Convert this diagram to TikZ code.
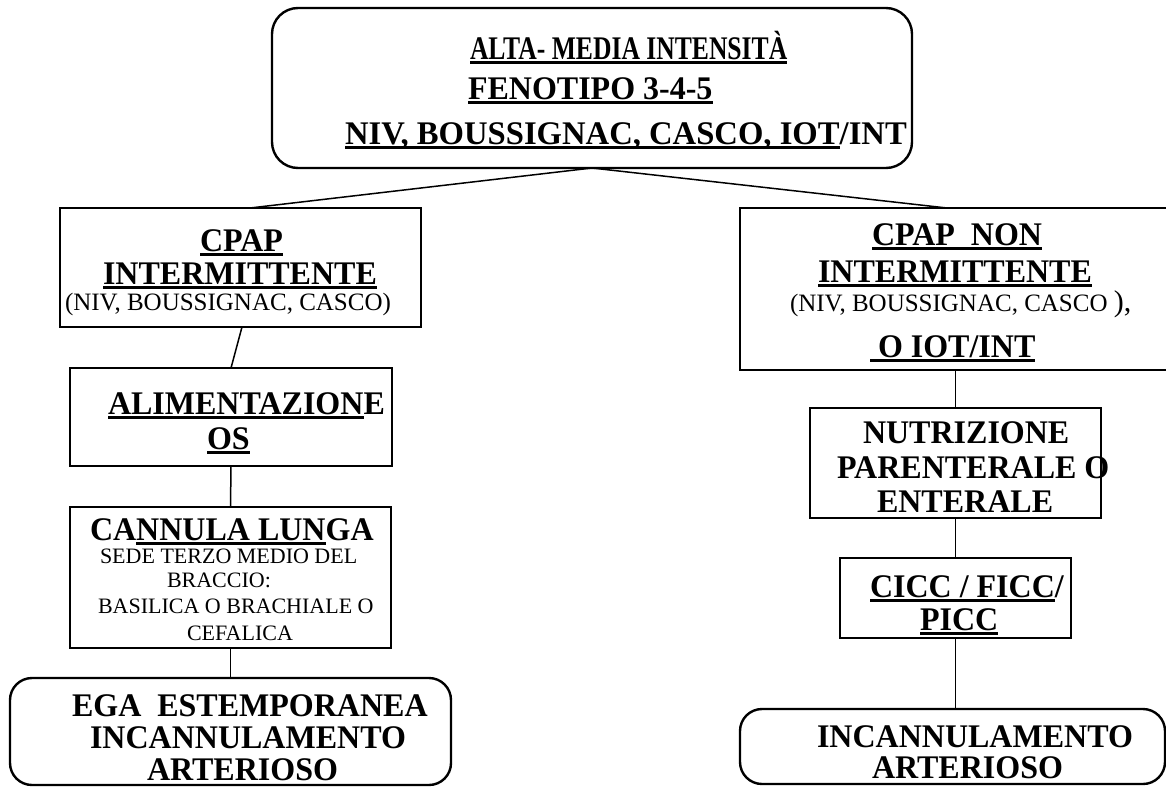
\documentclass[tikz,border=0pt]{standalone}
\usepackage{fontspec}
\setmainfont{Liberation Serif}
\newfontfamily\tallserif[FakeStretch=0.97]{Liberation Serif}
\newsavebox{\myulbox}
\newcommand{\myul}[1]{\sbox{\myulbox}{#1}\rlap{\rule[-4.6pt]{\wd\myulbox}{2.2pt}}\usebox{\myulbox}}
\tikzset{
  box/.style={draw, line width=2.4pt, rectangle, inner sep=0pt, outer sep=0pt},
  rbox/.style={box, rounded corners=22pt},
  link/.style={line width=1.5pt},
  tb/.style={anchor=base west, inner sep=0pt, outer sep=0pt, font=\tallserif\fontsize{33}{36}\selectfont\bfseries},
  tr/.style={anchor=base west, inner sep=0pt, outer sep=0pt, font=\fontsize{25}{28}\selectfont},
  ts/.style={anchor=base west, inner sep=0pt, outer sep=0pt, font=\fontsize{22}{24}\selectfont},
}
\begin{document}
\begin{tikzpicture}[x=1pt,y=-1pt]
\useasboundingbox (0,0) rectangle (1166,787);
% boxes
\node[rbox, rounded corners=26pt, minimum width=640pt, minimum height=160pt] (top) at (592,88) {};
\node[box, minimum width=361pt, minimum height=119pt] (cpapL) at (240.5,267.5) {};
\node[box, minimum width=322pt, minimum height=98pt] (alim) at (231,417) {};
\node[box, minimum width=321pt, minimum height=141pt] (cann) at (230.5,577.5) {};
\node[rbox, minimum width=441pt, minimum height=107pt] (ega) at (230.5,731.5) {};
\node[box, minimum width=440pt, minimum height=162pt] (cpapR) at (960,289) {};
\node[box, minimum width=291pt, minimum height=110pt] (nutr) at (955.5,463) {};
\node[box, minimum width=231pt, minimum height=80pt] (cicc) at (955.5,598) {};
\node[rbox, minimum width=425pt, minimum height=75pt] (incR) at (952.5,746.5) {};
% connectors
\draw[link] (top.south) -- ([xshift=9.5pt]cpapL.north);
\draw[link] (top.south) -- ([xshift=-13pt]cpapR.north);
\draw[link] ([xshift=1.5pt]cpapL.south) -- (alim.north);
\draw[link] (alim.south) -- (cann.north);
\draw[link] (cann.south) -- (ega.north);
\draw[link] (nutr.north |- cpapR.south) -- (nutr.north);
\draw[link] (nutr.south) -- (cicc.north);
\draw[link] (cicc.south) -- (cicc.south |- incR.north);
% top texts
\node[tb] (t1) at (470,59) {\scalebox{0.8}[1]{\myul{ALTA- MEDIA INTENSITÀ}}};
\node[tb] (t2) at (468,99) {\myul{FENOTIPO 3-4-5}};
\node[tb] (t3) at (345,144) {\scalebox{1.02}[1]{\myul{NIV, BOUSSIGNAC, CASCO, IOT}/INT}};
% left texts
\node[tb] (l1) at (200,251) {\myul{CPAP}};
\node[tb] (l2) at (103,284) {\myul{INTERMITTENTE}};
\node[tr] (l3) at (65,310) {(NIV, BOUSSIGNAC, CASCO)};
\node[tb] (l4) at (108,414) {\myul{ALIMENTAZION}E};
\node[tb] (l5) at (207,449) {\myul{OS}};
\node[tb] (l6) at (90,540) {CA\myul{NNULA LUN}GA};
\node[ts] (l7) at (100,563) {SEDE TERZO MEDIO DEL};
\node[ts] (l8) at (167,587) {BRACCIO:};
\node[ts] (l9) at (98,613) {BASILICA O BRACHIALE O};
\node[ts] (l10) at (187,640) {CEFALICA};
\node[tb] (l11) at (72,716) {EGA\ \ ESTEMPORANEA};
\node[tb] (l12) at (90,748) {INCANNULAMENTO};
\node[tb] (l13) at (147,780) {ARTERIOSO};
% right texts
\node[tb] (r1) at (872,245) {\myul{CPAP\ \ NON}};
\node[tb] (r2) at (818,282) {\myul{INTERMITTENTE}};
\node[tr] (r3) at (790,311) {(NIV, BOUSSIGNAC, CASCO {\fontsize{30}{32}\selectfont ),}};
\node[tb] (r4) at (870,357) {\myul{\ O IOT/INT}};
\node[tb] (r5) at (863,443) {NUTRIZIONE};
\node[tb] (r6) at (837,478) {PARENTERALE O};
\node[tb] (r7) at (877,512) {ENTERALE};
\node[tb] (r8) at (870,597) {\myul{CICC / FICC}/};
\node[tb] (r9) at (920,630) {\myul{PICC}};
\node[tb] (r10) at (817,747) {INCANNULAMENTO};
\node[tb] (r11) at (872,778) {ARTERIOSO};
\end{tikzpicture}
\end{document}
